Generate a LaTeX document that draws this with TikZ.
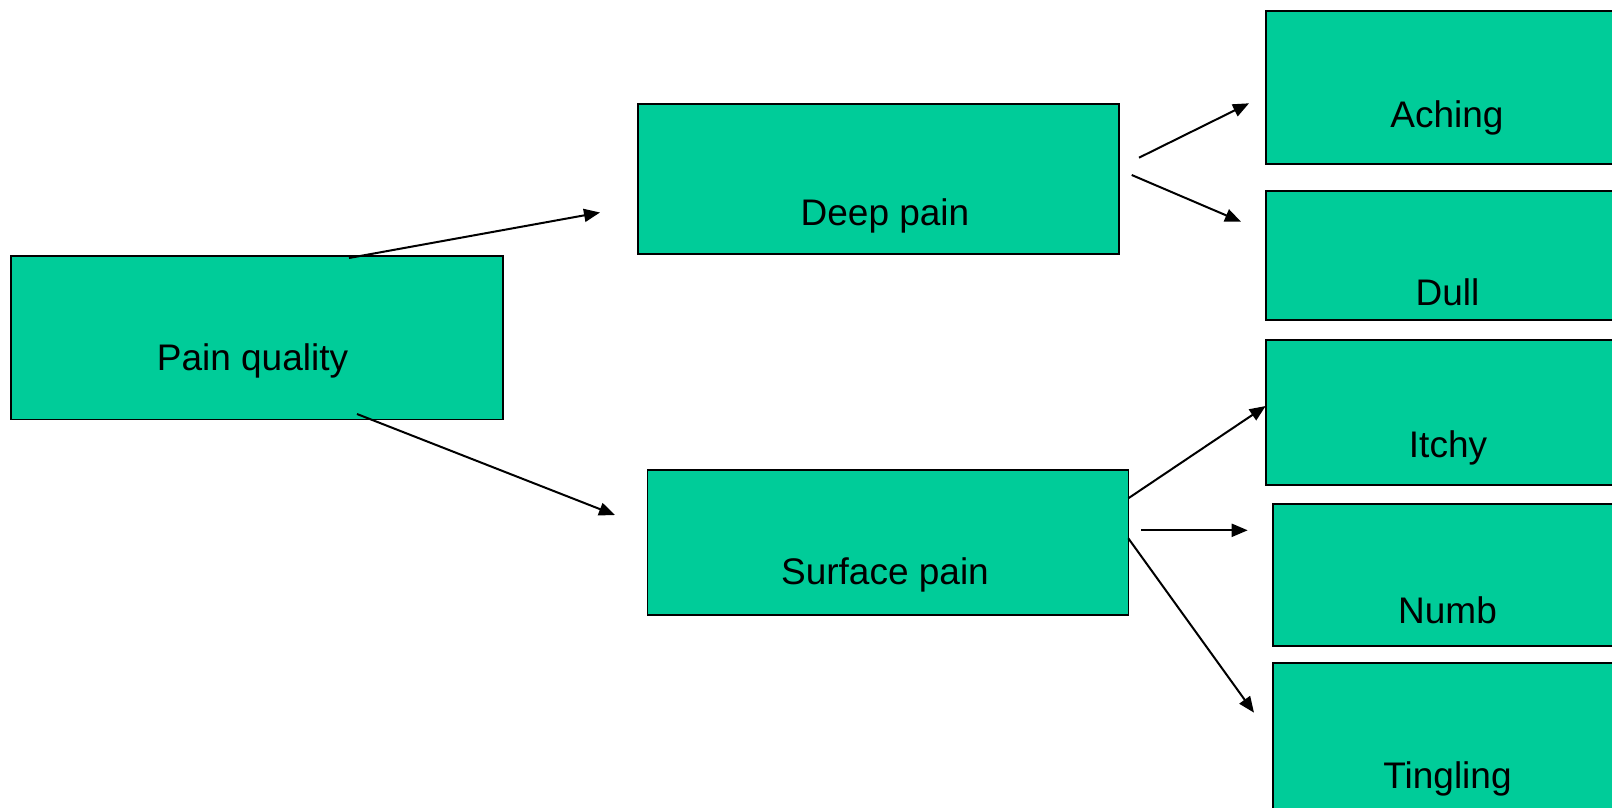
\documentclass[tikz,border=0pt]{standalone}
\usepackage{fontspec}
\setmainfont{Liberation Sans}
\usetikzlibrary{arrows.meta}
\definecolor{boxgreen}{RGB}{0,204,153}
\begin{document}
\begin{tikzpicture}[x=1pt,y=-1pt,
  box/.style={draw=black, line width=1.8pt, fill=boxgreen, rectangle, inner sep=0pt},
  lbl/.style={anchor=base, inner sep=0pt, font=\fontsize{37}{44}\selectfont},
  conn/.style={draw=black, line width=2pt, -{Triangle[length=16pt,width=13pt]}}]
\useasboundingbox (0,0) rectangle (1612,808);
\fill[white] (0,0) rectangle (1612,808);
% boxes
\node[box, minimum width=492pt, minimum height=163.5pt] (pq) at (257,337.75) {};
\node[box, minimum width=481pt, minimum height=150pt] (dp) at (878.5,179) {};
\node[box, minimum width=481pt, minimum height=145pt] (sp) at (888,542.5) {};
\node[box, minimum width=364pt, minimum height=153.3pt] (ach) at (1448,87.35) {};
\node[box, minimum width=364pt, minimum height=129pt] (dul) at (1448,255.5) {};
\node[box, minimum width=364pt, minimum height=145pt] (itc) at (1448,412.5) {};
\node[box, minimum width=357pt, minimum height=142pt] (num) at (1451.5,575) {};
\node[box, minimum width=357pt, minimum height=197pt] (tin) at (1451.5,761.5) {};
% labels
\node[lbl] (pqt) at (252.5,370.5) {Pain quality};
\node[lbl] (dpt) at (885,225) {Deep pain};
\node[lbl] (spt) at (885,584) {Surface pain};
\node[lbl] (acht) at (1447,127.3) {Aching};
\node[lbl] (dult) at (1447.5,305) {Dull};
\node[lbl] (itct) at (1448,457.7) {Itchy};
\node[lbl] (numt) at (1447.5,623.3) {Numb};
\node[lbl] (tint) at (1447.5,788.3) {Tingling};
% connector end points
\coordinate (a1s) at (349,258);    \coordinate (a1e) at (600,212.5);
\coordinate (a2s) at (357,414);    \coordinate (a2e) at (615,515);
\coordinate (a3s) at (1139,157.7); \coordinate (a3e) at (1249,103.3);
\coordinate (a4s) at (1131.7,175); \coordinate (a4e) at (1241,221.7);
\coordinate (a5s) at (1128.3,498.3); \coordinate (a5e) at (1265.7,406);
\coordinate (a6s) at (1141,530.3); \coordinate (a6e) at (1247.7,530.3);
\coordinate (a7s) at (1128.3,538.3); \coordinate (a7e) at (1254,712.7);
% connectors
\draw[conn] (a1s) -- (a1e);
\draw[conn] (a2s) -- (a2e);
\draw[conn] (a3s) -- (a3e);
\draw[conn] (a4s) -- (a4e);
\draw[conn] (a5s) -- (a5e);
\draw[conn] (a6s) -- (a6e);
\draw[conn] (a7s) -- (a7e);
\end{tikzpicture}
\end{document}
